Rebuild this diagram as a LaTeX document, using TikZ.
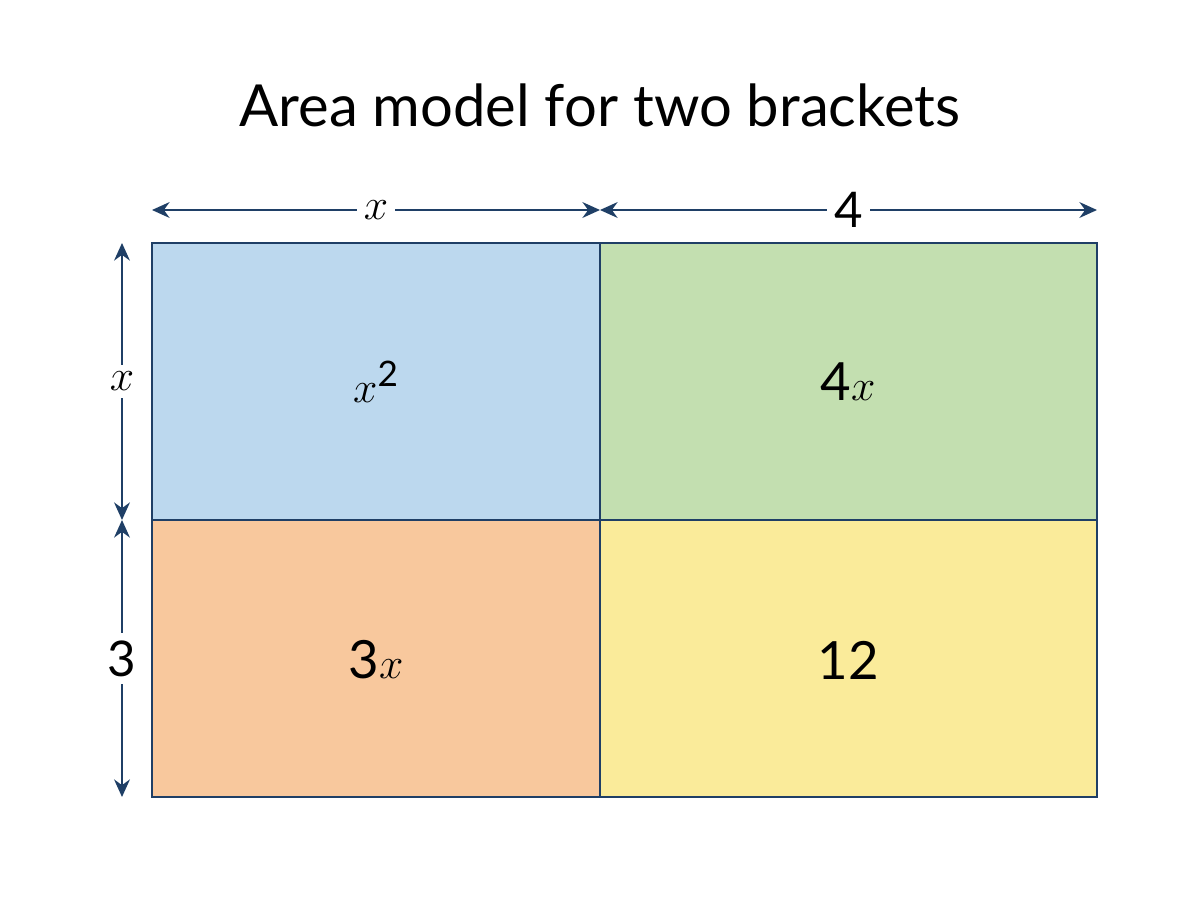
\documentclass[tikz,border=0pt]{standalone}
\usepackage{fontspec}
\setmainfont{Lato}
\usetikzlibrary{arrows.meta}
\definecolor{navy}{HTML}{1F3F66}
\definecolor{cblue}{HTML}{BCD8EE}
\definecolor{cgreen}{HTML}{C3DFB0}
\definecolor{corange}{HTML}{F8C89D}
\definecolor{cyellow}{HTML}{FAEB9A}
\begin{document}
\begin{tikzpicture}[x=0.02cm,y=-0.02cm,
  cell/.style={draw=navy,line width=1.6pt},
  dim/.style={draw=navy,line width=1.2pt,{Stealth[length=10pt,width=9pt]}-{Stealth[length=10pt,width=9pt]}},
  lab/.style={fill=white,inner sep=4pt,font=\fontsize{28}{32}\selectfont},
  val/.style={font=\fontsize{30}{34}\selectfont}]
\useasboundingbox (0,0) rectangle (1200,896);
\node[font=\fontsize{33}{38}\selectfont] (title) at (600,105) {Area model for two brackets};
\filldraw[cell,fill=cblue] (152,243) rectangle (600,520);
\filldraw[cell,fill=cgreen] (600,243) rectangle (1097,520);
\filldraw[cell,fill=corange] (152,520) rectangle (600,797);
\filldraw[cell,fill=cyellow] (600,520) rectangle (1097,797);
\node[val] (a) at (376,382) {$x^{\hbox{\fontsize{20}{24}\selectfont 2}}$};
\node[val] (b) at (848,382) {4$x$};
\node[val] (c) at (376,660) {3$x$};
\node[val] (d) at (848,660) {12};
\coordinate (t1) at (152,210); \coordinate (t2) at (600,210); \coordinate (t3) at (1097,210);
\coordinate (l1) at (122,243); \coordinate (l2) at (122,520); \coordinate (l3) at (122,797);
\draw[dim] (t1) -- node[lab] (tx) {$x$} (t2);
\draw[dim] (t2) -- node[lab] (t4) {4} (t3);
\draw[dim] (l1) -- node[lab] (lx) {$x$} (l2);
\draw[dim] (l2) -- node[lab] (l3l) {3} (l3);
\end{tikzpicture}
\end{document}
